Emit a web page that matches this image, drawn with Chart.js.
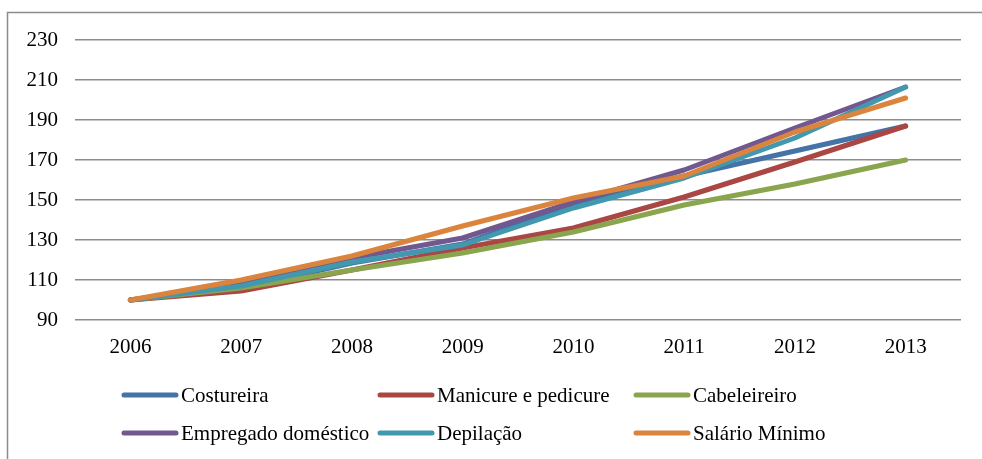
<!DOCTYPE html>
<html>
<head>
<meta charset="utf-8">
<script src="https://cdn.jsdelivr.net/npm/chart.js@4/dist/chart.umd.min.js"></script>
<style>
html, body { margin:0; padding:0; background:#fff; }
#wrap { width:982px; height:459px; position:relative; }
</style>
</head>
<body>
<div id="wrap"><canvas id="chart" width="982" height="459"></canvas></div>
<script>
const years = ["2006","2007","2008","2009","2010","2011","2012","2013"]

const costureira = [100, 106, 118.5, 128, 148, 162, 174.5, 187]
const manicure   = [100, 104.5, 115, 126, 136, 151.5, 169, 187]
const cabeleireiro = [100, 106, 115, 123.5, 134, 147.5, 158, 170]
const empregado  = [100, 108, 121, 131, 149, 165, 186, 206.5]
const depilacao  = [100, 107, 119, 127.5, 146, 161, 181, 206.5]
const salario    = [100, 110, 122, 137, 151, 162, 184, 201]

const yTicks = [90, 110, 130, 150, 170, 190, 210, 230]

const seriesNames = ["Costureira","Manicure e pedicure","Cabeleireiro","Empregado doméstico","Depilação","Salário Mínimo"]
const seriesData = [costureira, manicure, cabeleireiro, empregado, depilacao, salario]
const seriesColors = ["#4572A7","#AA4643","#89A54E","#71588F","#4198AF","#DB843D"]

const FONT = "'Liberation Serif', 'Times New Roman', serif"

// border + legend in 3 columns, like the original
const framePlugin = {
    id:"frame",
    beforeDraw(chart){
        const c = chart.ctx
        c.save()
        c.fillStyle = "#fff"
        c.fillRect(0, 0, chart.width, chart.height)
        c.strokeStyle = "#8c8c8c"
        c.lineWidth = 1.5
        c.strokeRect(7.5, 12.5, 990, 470)
        c.restore()
    },
    afterDraw(chart){
        const c = chart.ctx
        const cols = [122, 378, 634]
        const rows = [395, 433]
        c.save()
        c.font = "21px " + FONT
        c.textBaseline = "middle"
        c.lineCap = "round"
        chart.data.datasets.forEach((ds, i) => {
            const x = cols[i % 3]
            const y = rows[Math.floor(i / 3)]
            c.strokeStyle = ds.borderColor
            c.lineWidth = 5
            c.beginPath()
            c.moveTo(x + 2, y)
            c.lineTo(x + 54, y)
            c.stroke()
            c.fillStyle = "#000"
            c.fillText(ds.label, x + 59, y + 1)
        })
        c.restore()
    }
}

const ctx = document.getElementById("chart")

const chart = new Chart(ctx, {
    type:"line",
    data:{
        labels:years,
        datasets:seriesNames.map((name, i) => ({
            label:name,
            data:seriesData[i],
            borderColor:seriesColors[i],
            backgroundColor:seriesColors[i],
            borderWidth:5,
            borderCapStyle:"round",
            borderJoinStyle:"round",
            pointRadius:0,
            tension:0,
            fill:false,
            order:seriesNames.length - i
        }))
    },
    options:{
        responsive:false,
        animation:false,
        devicePixelRatio:1,
        layout:{ padding:{ left:8, right:21, top:40, bottom:0 } },
        plugins:{
            legend:{ display:false },
            tooltip:{ enabled:false }
        },
        scales:{
            x:{
                offset:true,
                grid:{ display:false, drawTicks:false },
                border:{ display:false },
                ticks:{ color:"#000", font:{ family:FONT, size:21 }, padding:15, maxRotation:0 },
                afterFit(s){ s.height = 139 }
            },
            y:{
                min:90,
                max:230,
                afterBuildTicks(s){ s.ticks = yTicks.map(v => ({ value:v })) },
                grid:{ color:"#8c8c8c", lineWidth:1.5, drawTicks:false },
                border:{ display:false },
                ticks:{ color:"#000", font:{ family:FONT, size:21 }, padding:17 },
                afterFit(s){ s.width = 67 }
            }
        }
    },
    plugins:[framePlugin]
})
</script>
</body>
</html>
